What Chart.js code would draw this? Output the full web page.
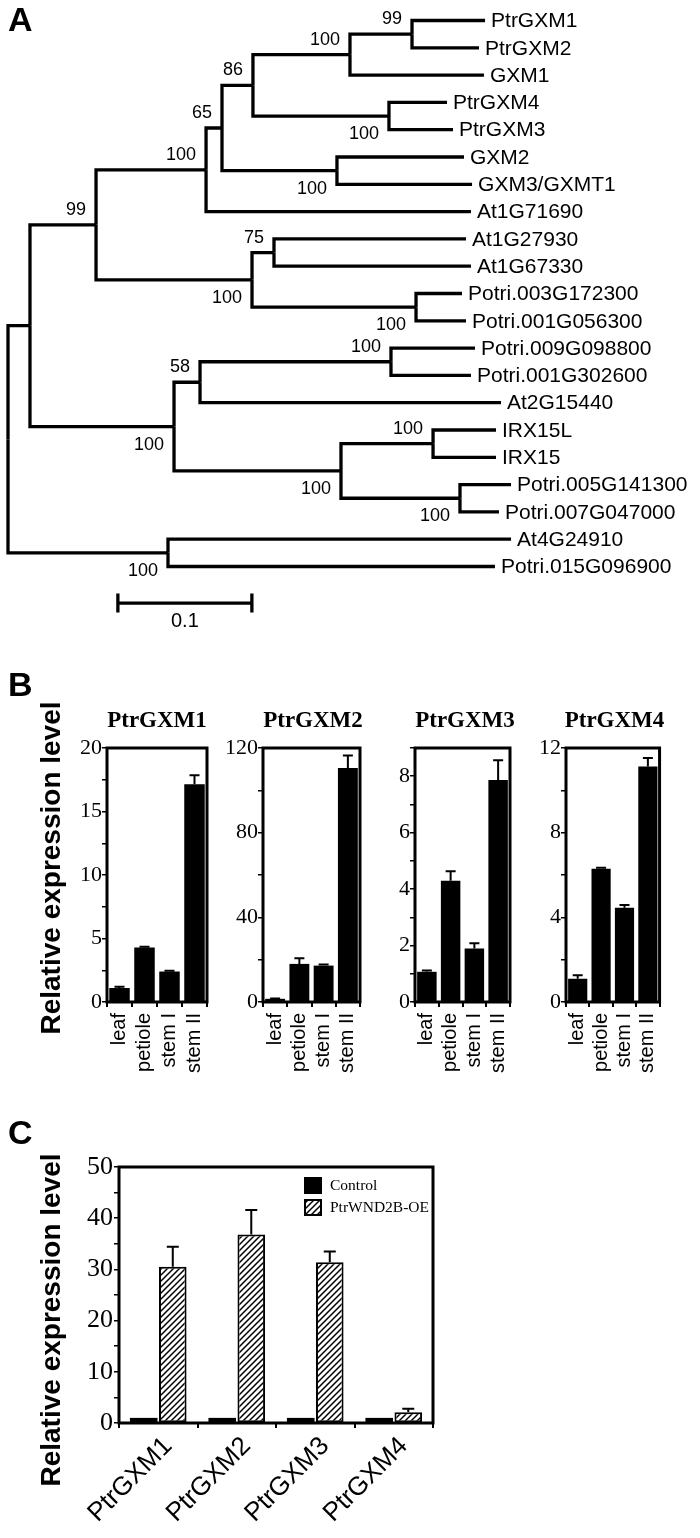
<!DOCTYPE html>
<html><head><meta charset="utf-8">
<script src="https://cdn.jsdelivr.net/npm/chart.js@4.4.0/dist/chart.umd.min.js"></script>
<style>
html,body{margin:0;padding:0;background:#fff;}
body{width:700px;height:1538px;position:relative;overflow:hidden;}
canvas{position:absolute;}
</style></head><body>
<canvas id="tree" width="700" height="655" style="left:0;top:0"></canvas>
<canvas id="b1" width="230" height="430" style="left:0;top:660px"></canvas>
<canvas id="b2" width="165" height="430" style="left:215px;top:660px"></canvas>
<canvas id="b3" width="160" height="430" style="left:370px;top:660px"></canvas>
<canvas id="b4" width="160" height="430" style="left:520px;top:660px"></canvas>
<canvas id="c1" width="460" height="438" style="left:0;top:1100px"></canvas>
<script>
// ---------------- DATA ----------------
// Panel A: phylogenetic tree
const leafNames = ['PtrGXM1','PtrGXM2','GXM1','PtrGXM4','PtrGXM3','GXM2','GXM3/GXMT1','At1G71690','At1G27930','At1G67330','Potri.003G172300','Potri.001G056300','Potri.009G098800','Potri.001G302600','At2G15440','IRX15L','IRX15','Potri.005G141300','Potri.007G047000','At4G24910','Potri.015G096900'];
const tipDepth = [0.356,0.3515,0.3552,0.3276,0.3321,0.3403,0.3463,0.3455,0.3418,0.3455,0.3388,0.3418,0.3485,0.3455,0.3679,0.3642,0.3642,0.3754,0.3664,0.3754,0.3634];
const leafParent = [7,7,6,8,8,9,9,3,11,11,12,12,15,15,14,17,17,18,18,19,19];
const nodeDepth = [0,0.0164,0.0657,0.1478,0.1597,0.1828,0.2552,0.3015,0.2843,0.2455,0.1821,0.1985,0.3045,0.1239,0.1433,0.2858,0.2485,0.3172,0.3373,0.1194];
const nodeParent = [-1,0,1,2,3,4,5,6,5,4,2,10,10,1,13,14,13,16,16,0];
const nodeSupport = [null,null,99,100,65,86,100,99,100,100,100,75,100,100,58,100,100,100,100,100];
const supportSide = ['','','above','above','above','above','above','above','below','below','below','above','below','below','above','above','below','above','below','below'];
const scaleBarLength = 0.1;
const scaleBarLabel = '0.1';

// Panel B: tissue expression
const tissues = ['leaf','petiole','stem I','stem II'];
const bTitles = ['PtrGXM1','PtrGXM2','PtrGXM3','PtrGXM4'];
const gxm1Tissue = [1.1, 4.3, 2.4, 17.15];
const gxm1TissueErr = [0.1, 0.05, 0.06, 0.7];
const gxm2Tissue = [1.5, 18.0, 17.2, 110.5];
const gxm2TissueErr = [0.2, 2.7, 0.5, 5.9];
const gxm3Tissue = [1.07, 4.3, 1.9, 7.87];
const gxm3TissueErr = [0.05, 0.33, 0.18, 0.7];
const gxm4Tissue = [1.1, 6.3, 4.45, 11.13];
const gxm4TissueErr = [0.16, 0.04, 0.13, 0.4];
const bAxisMax = [20, 120, 9, 12];
const bMinorStep = [2.5, 20, 1, 2];
const bMajorStep = [5, 40, 2, 4];

// Panel C: overexpression
const cGenes = ['PtrGXM1','PtrGXM2','PtrGXM3','PtrGXM4'];
const cSeriesNames = ['Control','PtrWND2B-OE'];
const controlValues = [1.0, 1.0, 1.0, 1.0];
const oeValues = [30.5, 36.8, 31.4, 2.1];
const oeErr = [3.9, 4.8, 2.1, 0.7];
const cAxisMax = 50, cMinorStep = 5, cMajorStep = 10;

const yTitle = 'Relative expression level';

// ---------------- HELPERS ----------------
const SANS = "'Liberation Sans', Arial, Helvetica, sans-serif";
const SERIF = "'Liberation Serif', 'Times New Roman', serif";
Chart.defaults.color = '#000';
Chart.defaults.font.family = SANS;

const textPlugin = {
  id: 'panelText',
  afterDraw(chart, args, opts) {
    const ctx = chart.ctx;
    (opts.items || []).forEach(it => {
      ctx.save();
      ctx.font = it.font;
      ctx.fillStyle = '#000';
      ctx.textAlign = it.align || 'center';
      ctx.textBaseline = it.baseline || 'middle';
      let x = it.x, y = it.y;
      if (it.rel) { x += chart.chartArea.left; y += chart.chartArea.top; }
      ctx.translate(x, y);
      if (it.rotate) ctx.rotate(it.rotate);
      ctx.fillText(it.text, 0, 0);
      ctx.restore();
    });
  }
};

const framePlugin = {
  id: 'frame',
  afterDraw(chart, args, opts) {
    if (!opts || !opts.show) return;
    const a = chart.chartArea, ctx = chart.ctx;
    ctx.save();
    ctx.strokeStyle = '#000';
    ctx.lineWidth = opts.width || 3;
    ctx.strokeRect(a.left, a.top, a.right - a.left, a.bottom - a.top);
    ctx.restore();
  }
};

const errPlugin = {
  id: 'errbars',
  afterDatasetsDraw(chart, args, opts) {
    const ctx = chart.ctx, ys = chart.scales.y;
    chart.data.datasets.forEach((ds, di) => {
      if (!ds.errors) return;
      const meta = chart.getDatasetMeta(di);
      meta.data.forEach((el, i) => {
        const e = ds.errors[i];
        if (!e) return;
        const yv = ys.getPixelForValue(ds.data[i]);
        const yt = ys.getPixelForValue(ds.data[i] + e);
        const cap = (opts && opts.cap) || 5;
        ctx.save();
        ctx.strokeStyle = '#000';
        ctx.lineWidth = (opts && opts.width) || 2;
        ctx.beginPath();
        ctx.moveTo(el.x, yv); ctx.lineTo(el.x, yt);
        ctx.moveTo(el.x - cap, yt); ctx.lineTo(el.x + cap, yt);
        ctx.stroke();
        ctx.restore();
      });
    });
  }
};

// ---------------- PANEL A: TREE ----------------
(function () {
  const kids = nodeDepth.map(() => []);
  leafParent.forEach((p, i) => kids[p].push({ leaf: true, i }));
  nodeParent.forEach((p, n) => { if (p >= 0) kids[p].push({ leaf: false, i: n }); });
  const memo = {};
  function nodeY(n) {
    if (memo[n] !== undefined) return memo[n];
    const ys = kids[n].map(c => c.leaf ? c.i : nodeY(c.i));
    return memo[n] = (Math.min(...ys) + Math.max(...ys)) / 2;
  }
  const lineStyle = { showLine: true, pointRadius: 0, borderColor: '#000', borderWidth: 3.3, tension: 0, borderJoinStyle: 'miter', borderCapStyle: 'butt', fill: false };
  const datasets = [];
  leafParent.forEach((p, i) => {
    datasets.push(Object.assign({ data: [
      { x: nodeDepth[p], y: nodeY(p) }, { x: nodeDepth[p], y: i }, { x: tipDepth[i], y: i }
    ] }, lineStyle));
  });
  nodeParent.forEach((p, n) => {
    if (p < 0) return;
    datasets.push(Object.assign({ data: [
      { x: nodeDepth[p], y: nodeY(p) }, { x: nodeDepth[p], y: nodeY(n) }, { x: nodeDepth[n], y: nodeY(n) }
    ] }, lineStyle));
  });
  // scale bar
  const sbRow = leafNames.length + 0.34;
  const sbStart = 0.082;
  datasets.push(Object.assign({ data: [{ x: sbStart, y: sbRow }, { x: sbStart + scaleBarLength, y: sbRow }] }, lineStyle));

  const H = 655, rowPx = 27.3, row0 = 20.5;
  const yMin = -row0 / rowPx, yMax = yMin + H / rowPx;
  const pxPerUnit = 1340, rootPx = 8;
  const xMin = -rootPx / pxPerUnit, xMax = xMin + 700 / pxPerUnit;

  const treeLabels = {
    id: 'treeLabels',
    afterDatasetsDraw(chart) {
      const ctx = chart.ctx, xs = chart.scales.x, ysc = chart.scales.y;
      ctx.save();
      ctx.fillStyle = '#000';
      ctx.textBaseline = 'middle';
      ctx.textAlign = 'left';
      ctx.font = '21px ' + SANS;
      leafNames.forEach((name, i) => {
        ctx.fillText(name, xs.getPixelForValue(tipDepth[i]) + 6, ysc.getPixelForValue(i) + 1);
      });
      ctx.font = '18px ' + SANS;
      ctx.textAlign = 'right';
      nodeSupport.forEach((s, n) => {
        if (s === null) return;
        const px = xs.getPixelForValue(nodeDepth[n]) - 10;
        const py = ysc.getPixelForValue(nodeY(n)) + (supportSide[n] === 'above' ? -15 : 18);
        ctx.fillText(String(s), px, py);
      });
      // scale bar end ticks and label
      const x0 = xs.getPixelForValue(sbStart), x1 = xs.getPixelForValue(sbStart + scaleBarLength);
      const yb = ysc.getPixelForValue(sbRow);
      ctx.strokeStyle = '#000'; ctx.lineWidth = 3.3;
      ctx.beginPath();
      ctx.moveTo(x0, yb - 9.5); ctx.lineTo(x0, yb + 9.5);
      ctx.moveTo(x1, yb - 9.5); ctx.lineTo(x1, yb + 9.5);
      ctx.stroke();
      ctx.textAlign = 'center';
      ctx.font = '20px ' + SANS;
      ctx.fillText(scaleBarLabel, (x0 + x1) / 2, yb + 18);
      // panel letter
      ctx.textAlign = 'left';
      ctx.font = 'bold 34px ' + SANS;
      ctx.fillText('A', 8, 22);
      ctx.restore();
    }
  };

  new Chart(document.getElementById('tree'), {
    type: 'scatter',
    data: { datasets },
    options: {
      responsive: false, animation: false, events: [], devicePixelRatio: 1,
      layout: { padding: 0 },
      plugins: { legend: { display: false }, tooltip: { enabled: false } },
      scales: {
        x: { type: 'linear', min: xMin, max: xMax, display: false },
        y: { type: 'linear', min: yMin, max: yMax, reverse: true, display: false }
      }
    },
    plugins: [treeLabels]
  });
})();

// ---------------- PANEL B ----------------
function makeB(id, k, values, errs, layout, extraText) {
  const major = bMajorStep[k];
  const items = [{ text: bTitles[k], x: (layout.areaW) / 2, y: -27, rel: true, font: 'bold 23px ' + SERIF }].concat(extraText || []);
  new Chart(document.getElementById(id), {
    type: 'bar',
    data: { labels: tissues, datasets: [{ data: values, errors: errs, backgroundColor: '#000', borderWidth: 0, barPercentage: 0.82, categoryPercentage: 1 }] },
    options: {
      responsive: false, animation: false, events: [], devicePixelRatio: 1,
      layout: { padding: { left: 0, top: 88, right: layout.right, bottom: 0 } },
      plugins: {
        legend: { display: false }, tooltip: { enabled: false },
        panelText: { items }, frame: { show: true, width: 3 }, errbars: { cap: 5, width: 2 }
      },
      scales: {
        x: {
          grid: { display: true, drawOnChartArea: false, drawTicks: true, tickLength: 5, color: '#000', lineWidth: 2, offset: true },
          border: { display: false },
          ticks: { color: '#000', font: { family: SANS, size: 20 }, minRotation: 90, maxRotation: 90, autoSkip: false, padding: 6 },
          afterFit: s => { s.height = 88; }
        },
        y: {
          min: 0, max: bAxisMax[k],
          grid: { display: true, drawOnChartArea: false, drawTicks: true, tickLength: 5, color: '#000', lineWidth: 1.5 },
          border: { display: false },
          ticks: { stepSize: bMinorStep[k], autoSkip: false, padding: 0, color: '#000', font: { family: SERIF, size: 22 },
            callback: v => (Math.abs(v % major) < 1e-9 ? v : '') },
          afterFit: s => { s.width = layout.yW; }
        }
      }
    },
    plugins: [textPlugin, framePlugin, errPlugin]
  });
}
makeB('b1', 0, gxm1Tissue, gxm1TissueErr, { yW: 107, right: 23, areaW: 100 }, [
  { text: 'B', x: 8, y: 27, align: 'left', font: 'bold 34px ' + SANS },
  { text: yTitle, x: 52, y: 208, rotate: -Math.PI / 2, font: 'bold 28px ' + SANS }
]);
makeB('b2', 1, gxm2Tissue, gxm2TissueErr, { yW: 48, right: 17, areaW: 100 });
makeB('b3', 2, gxm3Tissue, gxm3TissueErr, { yW: 45, right: 15, areaW: 100 });
makeB('b4', 3, gxm4Tissue, gxm4TissueErr, { yW: 46, right: 17, areaW: 97 });

// ---------------- PANEL C ----------------
(function () {
  const tile = document.createElement('canvas');
  tile.width = 6; tile.height = 6;
  const t = tile.getContext('2d');
  t.fillStyle = '#fff'; t.fillRect(0, 0, 6, 6);
  t.strokeStyle = '#000'; t.lineWidth = 1.5;
  t.beginPath();
  t.moveTo(-1, 7); t.lineTo(7, -1);
  t.moveTo(-1, 1); t.lineTo(1, -1);
  t.moveTo(5, 7); t.lineTo(7, 5);
  t.stroke();
  const ctxC = document.getElementById('c1').getContext('2d');
  const hatch = ctxC.createPattern(tile, 'repeat');

  const legendPlugin = {
    id: 'cLegend',
    afterDraw(chart) {
      const ctx = chart.ctx, a = chart.chartArea;
      const bx = a.left + 186, tops = [a.top + 11, a.top + 33];
      chart.data.datasets.forEach((ds, i) => {
        ctx.save();
        ctx.fillStyle = ds.backgroundColor;
        ctx.fillRect(bx, tops[i], 16, 15);
        ctx.strokeStyle = '#000'; ctx.lineWidth = 2;
        ctx.strokeRect(bx, tops[i], 16, 15);
        ctx.fillStyle = '#000';
        ctx.font = '15.5px ' + SERIF;
        ctx.textAlign = 'left'; ctx.textBaseline = 'middle';
        ctx.fillText(ds.label, bx + 25, tops[i] + 8);
        ctx.restore();
      });
    }
  };

  new Chart(document.getElementById('c1'), {
    type: 'bar',
    data: {
      labels: cGenes,
      datasets: [
        { label: cSeriesNames[0], data: controlValues, backgroundColor: '#000', borderColor: '#000', borderWidth: 0, barPercentage: 0.95, categoryPercentage: 0.74 },
        { label: cSeriesNames[1], data: oeValues, errors: oeErr, backgroundColor: hatch, borderColor: '#000', borderWidth: 2, borderSkipped: false, barPercentage: 0.95, categoryPercentage: 0.74 }
      ]
    },
    options: {
      responsive: false, animation: false, events: [], devicePixelRatio: 1,
      layout: { padding: { left: 0, top: 67, right: 27, bottom: 0 } },
      plugins: {
        legend: { display: false }, tooltip: { enabled: false },
        panelText: { items: [
          { text: 'C', x: 8, y: 35, align: 'left', font: 'bold 34px ' + SANS },
          { text: yTitle, x: 52, y: 220, rotate: -Math.PI / 2, font: 'bold 28px ' + SANS }
        ] },
        frame: { show: true, width: 3 }, errbars: { cap: 6, width: 2 }
      },
      scales: {
        x: {
          grid: { display: true, drawOnChartArea: false, drawTicks: true, tickLength: 5, color: '#000', lineWidth: 2, offset: true },
          border: { display: false },
          ticks: { color: '#000', font: { family: SANS, size: 26 }, minRotation: 45, maxRotation: 45, autoSkip: false, padding: 3, labelOffset: 10 },
          afterFit: s => { s.height = 115; }
        },
        y: {
          min: 0, max: cAxisMax,
          grid: { display: true, drawOnChartArea: false, drawTicks: true, tickLength: 5, color: '#000', lineWidth: 1.5 },
          border: { display: false },
          ticks: { stepSize: cMinorStep, autoSkip: false, padding: 1, color: '#000', font: { family: SERIF, size: 26 },
            callback: v => (Math.abs(v % cMajorStep) < 1e-9 ? v : '') },
          afterFit: s => { s.width = 119; }
        }
      }
    },
    plugins: [textPlugin, framePlugin, errPlugin, legendPlugin]
  });
})();
</script>
</body></html>
